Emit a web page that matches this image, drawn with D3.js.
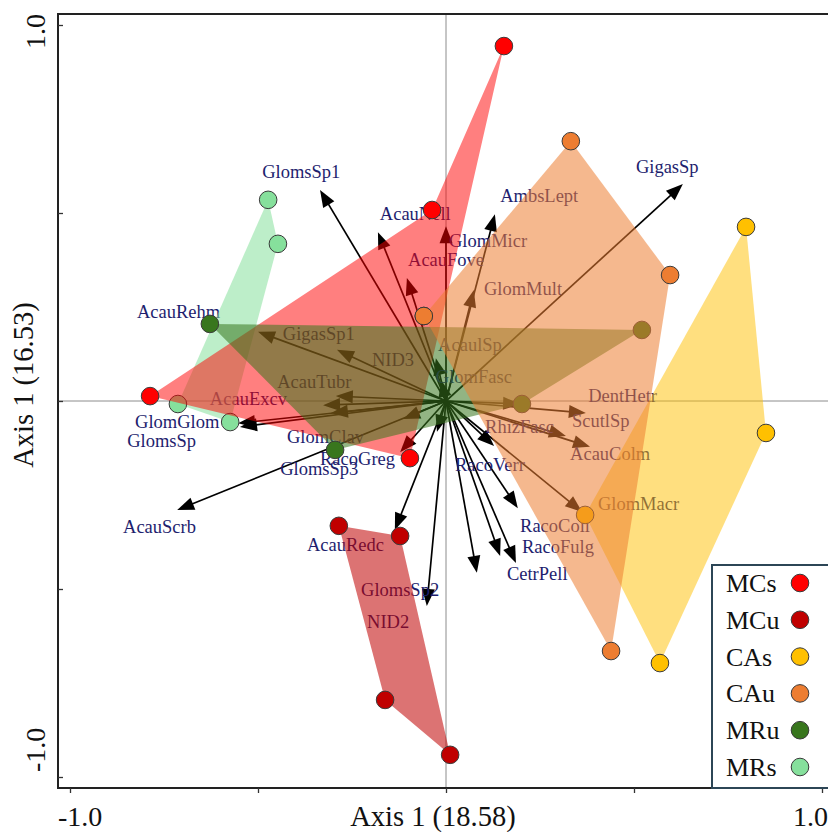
<!DOCTYPE html>
<html>
<head>
<meta charset="utf-8">
<script src="https://cdn.jsdelivr.net/npm/d3@7"></script>
<style>
body { margin: 0; background: #fff; }
svg { display: block; font-family: "Liberation Serif", "Times New Roman", serif; }
</style>
</head>
<body>
<svg width="828" height="832"></svg>
<script>
// groups, in the order they are painted (later ones cover earlier ones)
var drawOrder = ['MRs', 'MCs', 'MRu', 'MCu', 'CAs', 'CAu'];
var legendOrder = ['MCs', 'MCu', 'CAs', 'CAu', 'MRu', 'MRs'];
var groupColor = {MCs: '#ff0000', MCu: '#c00000', CAs: '#ffc000', CAu: '#ed7d31', MRu: '#38761d', MRs: '#86e09c'};
var groupFill = {MCs: 0.5, MCu: 0.55, CAs: 0.5, CAu: 0.55, MRu: 0.55, MRs: 0.55};

// samples (listed in outline order inside each group)
var sampleGroup = ['MRs','MRs','MRs','MRs',
                   'MCs','MCs','MCs','MCs','MCs',
                   'MRu','MRu','MRu','MRu',
                   'MCu','MCu','MCu','MCu',
                   'CAs','CAs','CAs','CAs',
                   'CAu','CAu','CAu','CAu'];
var sampleX = [-0.473, -0.447, -0.574, -0.713,
               -0.787, -0.037, 0.154, -0.096, -0.059,
               -0.628, 0.521, 0.202, -0.295,
               -0.285, -0.122, 0.011, -0.162,
               0.798, 0.851, 0.569, 0.370,
               0.332, 0.596, 0.439, -0.059];
var sampleY = [0.535, 0.418, -0.056, -0.008,
               0.013, 0.508, 0.944, -0.152, 0.226,
               0.205, 0.189, -0.008, -0.130,
               -0.332, -0.359, -0.941, -0.795,
               0.463, -0.085, -0.697, -0.303,
               0.691, 0.335, -0.665, 0.226];
var sampleOnHull = [1,1,1,1, 1,1,1,1,0, 1,1,1,1, 1,1,1,1, 1,1,1,1, 1,1,1,1];

// species vectors
var arrowNames = ['GlomsSp1','AcauNell','AcauFove','GlomMicr','AmbsLept','GlomMult','GigasSp',
                  'AcaulSp','GlomFasc','DentHetr','ScutlSp','RhizFasc','AcauColm','GlomMacr',
                  'RacoVerr','RacoColl','RacoFulg','CetrPell','NID2','GlomsSp2','AcauRedc',
                  'GlomsSp3','RacoGreg','GlomClav','AcauScrb','GlomGlom','GlomsSp','AcauExcv',
                  'AcauTubr','AcauRehm','NID3','GigasSp1'];
var arrowX = [-0.335, -0.181, -0.104, 0.000, 0.130, 0.074, 0.630,
              -0.027, -0.013, 0.197, 0.372, 0.319, 0.383, 0.362,
              0.128, 0.191, 0.186, 0.144, 0.082, -0.051, -0.136,
              -0.024, -0.122, -0.114, -0.715, -0.553, -0.548, -0.327,
              -0.293, -0.306, -0.290, -0.500];
var arrowY = [0.561, 0.449, 0.327, 0.465, 0.497, 0.295, 0.577,
              0.114, 0.056, -0.008, -0.032, -0.093, -0.122, -0.295,
              -0.120, -0.285, -0.431, -0.412, -0.457, -0.545, -0.343,
              -0.082, -0.136, -0.048, -0.290, -0.059, -0.069, -0.011,
              0.013, -0.032, 0.136, 0.184];
// where each species name sits (text start, baseline)
var labelX = [-0.489, -0.176, -0.101, 0.008, 0.144, 0.101, 0.505,
              -0.021, -0.027, 0.378, 0.335, 0.104, 0.330, 0.404,
              0.024, 0.197, 0.202, 0.162, -0.210, -0.226, -0.370,
              -0.441, -0.335, -0.423, -0.859, -0.827, -0.848, -0.628,
              -0.449, -0.822, -0.197, -0.434];
var labelY = [0.593, 0.481, 0.359, 0.410, 0.529, 0.282, 0.606,
              0.133, 0.048, -0.003, -0.069, -0.085, -0.157, -0.290,
              -0.186, -0.348, -0.404, -0.476, -0.604, -0.519, -0.399,
              -0.197, -0.170, -0.112, -0.351, -0.072, -0.122, -0.011,
              0.035, 0.221, 0.093, 0.162];

var tickValues = [-1, -0.5, 0, 0.5, 1];
var tickLabels = ['-1.0', '1.0'];
var xTitle = 'Axis 1 (18.58)';
var yTitle = 'Axis 1 (16.53)';

var svg = d3.select('svg');
var x = d3.scaleLinear().domain([-1, 1]).range([70, 822]);
var y = d3.scaleLinear().domain([-1, 1]).range([777, 25]);

var frameL = x(-1) - 12, frameR = x(1) + 12;
var frameT = y(1) - 11, frameB = y(-1) + 11;

// zero lines
svg.append('line')
    .attr('x1', frameL).attr('x2', frameR)
    .attr('y1', y(0)).attr('y2', y(0))
    .attr('stroke', '#8c8c8c').attr('stroke-width', 1);
svg.append('line')
    .attr('x1', x(0)).attr('x2', x(0))
    .attr('y1', frameT).attr('y2', frameB)
    .attr('stroke', '#8c8c8c').attr('stroke-width', 1);

// arrows first, polygons go over them
var arrows = svg.append('g');
arrowNames.forEach(function(n, i) {
    var x1 = x(0), y1 = y(0), x2 = x(arrowX[i]), y2 = y(arrowY[i]);
    var a = Math.atan2(y2 - y1, x2 - x1);
    var hl = 17, hw = 6.5;
    var bx = x2 - hl * Math.cos(a), by = y2 - hl * Math.sin(a);
    arrows.append('line')
        .attr('x1', x1).attr('y1', y1)
        .attr('x2', bx + 3 * Math.cos(a)).attr('y2', by + 3 * Math.sin(a))
        .attr('stroke', '#000').attr('stroke-width', 1.7);
    arrows.append('path')
        .attr('d', 'M' + x2 + ',' + y2 +
            'L' + (bx - hw * Math.sin(a)) + ',' + (by + hw * Math.cos(a)) +
            'L' + (bx + hw * Math.sin(a)) + ',' + (by - hw * Math.cos(a)) + 'Z')
        .attr('fill', '#000');
});

svg.append('g').selectAll('text')
    .data(arrowNames)
    .enter()
    .append('text')
    .attr('x', function(d, i) { return x(labelX[i]); })
    .attr('y', function(d, i) { return y(labelY[i]); })
    .attr('font-size', '18.5px')
    .attr('fill', '#1e1e6e')
    .text(function(d) { return d; });

// group polygons + points
drawOrder.forEach(function(g) {
    var idx = d3.range(sampleGroup.length).filter(function(i) { return sampleGroup[i] == g; });
    var outline = idx.filter(function(i) { return sampleOnHull[i] == 1; });
    svg.append('path')
        .attr('d', d3.line()(outline.map(function(i) { return [x(sampleX[i]), y(sampleY[i])]; })) + 'Z')
        .attr('fill', groupColor[g])
        .attr('fill-opacity', groupFill[g])
        .attr('stroke', 'none');
    svg.append('g').selectAll('circle')
        .data(idx)
        .enter()
        .append('circle')
        .attr('cx', function(i) { return x(sampleX[i]); })
        .attr('cy', function(i) { return y(sampleY[i]); })
        .attr('r', 8.8)
        .attr('fill', groupColor[g])
        .attr('stroke', '#3a3a3a')
        .attr('stroke-width', 1);
});

// frame
svg.append('rect')
    .attr('x', frameL).attr('y', frameT)
    .attr('width', frameR - frameL).attr('height', frameB - frameT)
    .attr('fill', 'none').attr('stroke', '#222').attr('stroke-width', 2);

// tick marks
var xAxis = svg.append('g')
    .attr('transform', 'translate(0,' + frameB + ')')
    .call(d3.axisBottom(x).tickValues(tickValues).tickSize(5).tickFormat(''));
var yAxis = svg.append('g')
    .attr('transform', 'translate(' + frameL + ',0)')
    .call(d3.axisLeft(y).tickValues(tickValues).tickSize(-5).tickFormat(''));
xAxis.select('.domain').remove();
yAxis.select('.domain').remove();
svg.selectAll('.tick line').attr('stroke', '#333').attr('stroke-width', 1.3);

// tick labels at the ends only
svg.append('text').attr('x', frameL).attr('y', 826)
    .attr('font-size', '28px').attr('fill', '#111').text(tickLabels[0]);
svg.append('text').attr('x', x(1) + 6).attr('y', 826)
    .attr('text-anchor', 'end')
    .attr('font-size', '28px').attr('fill', '#111').text(tickLabels[1]);
svg.append('text')
    .attr('transform', 'translate(45,' + frameT + ') rotate(-90)')
    .attr('text-anchor', 'end')
    .attr('font-size', '28px').attr('fill', '#111').text(tickLabels[1]);
svg.append('text')
    .attr('transform', 'translate(45,' + (y(-1) - 5) + ') rotate(-90)')
    .attr('text-anchor', 'start')
    .attr('font-size', '28px').attr('fill', '#111').text(tickLabels[0]);

// axis titles
svg.append('text').attr('x', 433).attr('y', 826)
    .attr('text-anchor', 'middle')
    .attr('font-size', '28.5px').attr('fill', '#111').text(xTitle);
svg.append('text')
    .attr('transform', 'translate(33,385) rotate(-90)')
    .attr('text-anchor', 'middle')
    .attr('font-size', '28.5px').attr('fill', '#111').text(yTitle);

// legend
var legend = svg.append('g');
legend.append('rect')
    .attr('x', 712).attr('y', 565)
    .attr('width', 122).attr('height', frameB - 565)
    .attr('fill', '#fff').attr('stroke', '#2c4656').attr('stroke-width', 2);
legendOrder.forEach(function(g, i) {
    var cy = 583 + i * 36.8;
    legend.append('text')
        .attr('x', 726).attr('y', cy + 9)
        .attr('font-size', '26px').attr('fill', '#111')
        .text(g);
    legend.append('circle')
        .attr('cx', 800).attr('cy', cy)
        .attr('r', 8.8)
        .attr('fill', groupColor[g])
        .attr('stroke', '#3a3a3a').attr('stroke-width', 1);
});
</script>
</body>
</html>
